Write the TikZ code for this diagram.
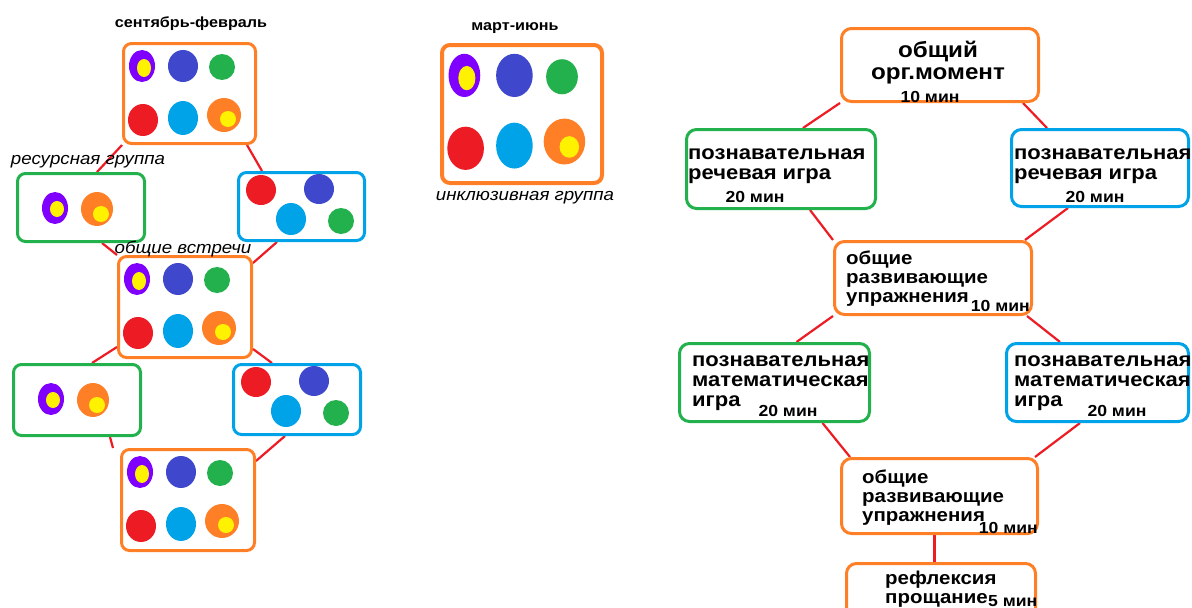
\documentclass[tikz,border=0pt]{standalone}
\usepackage{fontspec}
\setmainfont{Liberation Sans}[FakeStretch=1.1]
\usepackage{tikz}
\usetikzlibrary{positioning,backgrounds}
\definecolor{kidorange}{RGB}{255,127,39}
\definecolor{kidgreen}{RGB}{34,177,76}
\definecolor{kidsky}{RGB}{0,162,232}
\definecolor{kidblue}{RGB}{63,72,204}
\definecolor{kidred}{RGB}{237,28,36}
\definecolor{kidpurple}{RGB}{128,0,255}
\definecolor{kidyellow}{RGB}{255,242,0}
\tikzstyle{kidbox} = [rectangle, rounded corners=8pt, line width=3pt, fill=white, inner sep=0pt]
\tikzstyle{stagebox} = [rectangle, rounded corners=10pt, line width=3pt, fill=white, inner sep=0pt]
\tikzstyle{link} = [line width=2.2pt, color=kidred]
\tikzstyle{stagetext} = [font=\bfseries\fontsize{20}{20}\selectfont, align=left, inner sep=0pt]
\tikzstyle{warmtext} = [font=\bfseries\fontsize{18.6}{19}\selectfont, align=left, inner sep=0pt]
\tikzstyle{timetext} = [font=\bfseries\fontsize{16}{16}\selectfont, inner sep=0pt]
\tikzstyle{season} = [font=\bfseries\fontsize{14.7}{16}\selectfont, inner sep=0pt]
\tikzstyle{grouplabel} = [font=\itshape\fontsize{17}{18}\selectfont, inner sep=0pt]

% six children, #1 = corner of the box, #2 = extra scaling
\newcommand{\kidsix}[2]{%
  \begin{scope}[shift={#1},#2]
    \fill[kidpurple] (20,24) ellipse (13 and 16);
    \fill[kidyellow] (22,26) ellipse (7 and 9);
    \fill[kidblue] (61,24) ellipse (15 and 16);
    \fill[kidgreen] (100,25) ellipse (13 and 13);
    \fill[kidred] (21,78) ellipse (15 and 16);
    \fill[kidsky] (61,76) ellipse (15 and 17);
    \fill[kidorange] (102,73) ellipse (17 and 17);
    \fill[kidyellow] (106,77) ellipse (8 and 8);
  \end{scope}}
\newcommand{\kidfour}[1]{%
  \begin{scope}[shift={#1}]
    \fill[kidred] (24,19) ellipse (15 and 15);
    \fill[kidblue] (82,18) ellipse (15 and 15);
    \fill[kidsky] (54,48) ellipse (15 and 16);
    \fill[kidgreen] (104,50) ellipse (13 and 13);
  \end{scope}}
\newcommand{\kidtwo}[1]{%
  \begin{scope}[shift={#1}]
    \fill[kidpurple] (39,36) ellipse (13 and 16);
    \fill[kidyellow] (41,37) ellipse (7 and 8);
    \fill[kidorange] (81,37) ellipse (16 and 17);
    \fill[kidyellow] (85,42) ellipse (8 and 8);
  \end{scope}}

\begin{document}
\begin{tikzpicture}[x=1pt, y=-1pt]
\useasboundingbox (0,0) rectangle (1192,608);

% left: groups from september to february
\node[kidbox, draw=kidorange, minimum width=132pt, minimum height=100pt] (sep1) at (189.5,93.5) {};
\node[kidbox, draw=kidgreen, minimum width=127pt, minimum height=68pt] (res1) at (81,207.5) {};
\node[kidbox, draw=kidsky, minimum width=126pt, minimum height=68pt] (rest1) at (301.5,206.5) {};
\node[kidbox, draw=kidorange, minimum width=133pt, minimum height=101pt] (sep2) at (185,307) {};
\node[kidbox, draw=kidgreen, minimum width=127pt, minimum height=71pt] (res2) at (77,400) {};
\node[kidbox, draw=kidsky, minimum width=127pt, minimum height=70pt] (rest2) at (297,399.5) {};
\node[kidbox, draw=kidorange, minimum width=133pt, minimum height=101pt] (sep3) at (188,500) {};

\kidsix{(sep1.north west)}{}
\kidsix{(sep2.north west)}{}
\kidsix{(sep3.north west)}{}
\kidtwo{(res1.north west)}
\kidtwo{(res2.north west)}
\kidfour{(rest1.north west)}
\kidfour{(rest2.north west)}

\node[season] (sepname) at (191,24) {сентябрь-февраль};
\node[grouplabel] (resname) at (88,162) {ресурсная группа};
\node[grouplabel] (meetname) at (183,249) {общие встречи};

% middle: march to june
\node[kidbox, draw=kidorange, line width=4pt, minimum width=160pt, minimum height=138pt] (mar) at (522,114) {};
\kidsix{(mar.north west)}{xscale=1.22,yscale=1.35}
\node[season] (marname) at (515,28) {март-июнь};
\node[grouplabel] (incname) at (525,198) {инклюзивная группа};

% right: the lesson
\node[stagebox, draw=kidorange, minimum width=197pt, minimum height=73pt] (org) at (940,65) {};
\node[stagebox, draw=kidgreen, minimum width=189pt, minimum height=79pt] (speech1) at (781,169) {};
\node[stagebox, draw=kidsky, minimum width=177pt, minimum height=77pt] (speech2) at (1100,168) {};
\node[stagebox, draw=kidorange, minimum width=197pt, minimum height=73pt] (warm1) at (933,278) {};
\node[stagebox, draw=kidgreen, minimum width=190pt, minimum height=78pt] (math1) at (774.5,382.5) {};
\node[stagebox, draw=kidsky, minimum width=182pt, minimum height=78pt] (math2) at (1097.5,382.5) {};
\node[stagebox, draw=kidorange, minimum width=196pt, minimum height=75pt] (warm2) at (939.5,496) {};
\node[stagebox, draw=kidorange, minimum width=189pt, minimum height=75pt] (bye) at (941,601) {};

\node[stagetext, font=\bfseries\fontsize{22}{22}\selectfont, align=center, anchor=north] (orgtxt) at (938,41) {общий\\орг.момент};
\node[timetext, anchor=base] (orgtime) at (930,102) {10 мин};
\node[stagetext, anchor=north west] (speech1txt) at (688,149) {познавательная\\речевая игра};
\node[timetext, anchor=base] (speech1time) at (755,202) {20 мин};
\node[stagetext, anchor=north west] (speech2txt) at (1014,149) {познавательная\\речевая игра};
\node[timetext, anchor=base] (speech2time) at (1095,202) {20 мин};
\node[warmtext, anchor=north west] (warm1txt) at (846,251) {общие\\развивающие\\упражнения};
\node[timetext, anchor=base east] (warm1time) at (1030,311) {10 мин};
\node[stagetext, anchor=north west] (math1txt) at (692,356) {познавательная\\математическая\\игра};
\node[timetext, anchor=base] (math1time) at (788,416) {20 мин};
\node[stagetext, anchor=north west] (math2txt) at (1014,356) {познавательная\\математическая\\игра};
\node[timetext, anchor=base] (math2time) at (1117,416) {20 мин};
\node[warmtext, anchor=north west] (warm2txt) at (862,470) {общие\\развивающие\\упражнения};
\node[timetext, anchor=base east] (warm2time) at (1038,533) {10 мин};
\node[warmtext, anchor=north west] (byetxt) at (885,571) {рефлексия\\прощание};
\node[timetext, anchor=base west] (byetime) at (988,606) {5 мин};

\begin{scope}[on background layer]
\draw[link] (sep1.south west) -- ([xshift=16pt]res1.north);
\draw[link] ([xshift=-10pt]sep1.south east) -- ([xshift=25pt]rest1.north west);
\draw[link] ([xshift=21pt]res1.south) -- (sep2.north west);
\draw[link] ([xshift=40pt]rest1.south west) -- ([yshift=-8pt]sep2.north east);
\draw[link] ([yshift=12pt]sep2.south west) -- ([xshift=15pt]res2.north);
\draw[link] ([yshift=10pt]sep2.south east) -- ([xshift=40pt]rest2.north west);
\draw[link] ([xshift=33pt]res2.south) -- ([xshift=-7pt]sep3.north west);
\draw[link] ([xshift=53pt]rest2.south west) -- ([yshift=-13pt]sep3.north east);

\draw[link] (org.south west) -- ([xshift=22pt]speech1.north);
\draw[link] ([xshift=-17pt]org.south east) -- ([xshift=37pt]speech2.north west);
\draw[link] ([xshift=29pt]speech1.south) -- (warm1.north west);
\draw[link] ([xshift=58pt]speech2.south west) -- ([xshift=-8pt]warm1.north east);
\draw[link] (warm1.south west) -- ([xshift=22pt]math1.north);
\draw[link] ([xshift=-6pt]warm1.south east) -- ([xshift=55pt]math2.north west);
\draw[link] ([xshift=48pt]math1.south) -- ([xshift=10pt]warm2.north west);
\draw[link] ([xshift=75pt]math2.south west) -- ([xshift=-4pt]warm2.north east);
\draw[link] ([xshift=-5pt]warm2.south) -- ([xshift=-5pt]warm2.south |- bye.north);
\end{scope}
\end{tikzpicture}
\end{document}
